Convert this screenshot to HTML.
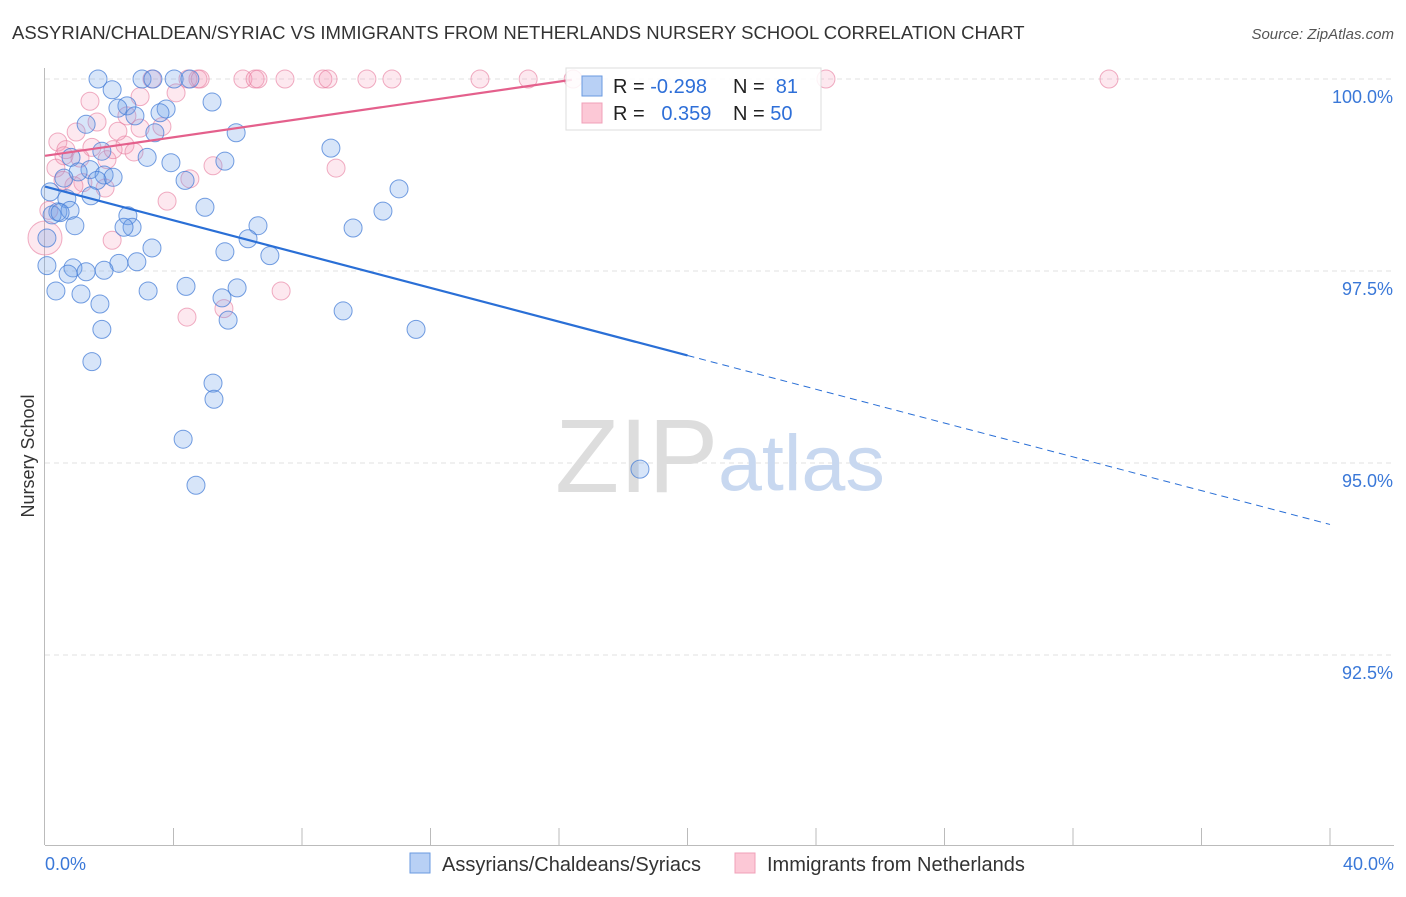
<!DOCTYPE html>
<html><head><meta charset="utf-8">
<style>
body{margin:0;background:#fff;font-family:"Liberation Sans",sans-serif;}
svg text{font-family:"Liberation Sans",sans-serif;}
</style></head>
<body>
<svg id="chart" width="1406" height="892" xmlns="http://www.w3.org/2000/svg">
<text x="12" y="39" font-size="18.5" fill="#333">ASSYRIAN/CHALDEAN/SYRIAC VS IMMIGRANTS FROM NETHERLANDS NURSERY SCHOOL CORRELATION CHART</text>
<text x="1394" y="39" font-size="15" fill="#555" font-style="italic" text-anchor="end">Source: ZipAtlas.com</text>
<text transform="translate(34,456) rotate(-90)" font-size="18" fill="#333" text-anchor="middle">Nursery School</text>
<g id="grid"></g>
<g id="watermark">
<text x="555" y="492" font-size="105" fill="#ddd" font-family="Liberation Serif">ZIP</text>
<text x="718" y="490" font-size="79" fill="#c8d8f0">atlas</text>
</g>
<g id="marks"></g>
<g id="legend-top">
<rect x="566" y="68" width="255" height="62" fill="#fff" fill-opacity="0.85" stroke="#ddd"/>
<rect x="582" y="76" width="20" height="20" fill="#b8d0f5" stroke="#6a9ae0"/>
<rect x="582" y="103" width="20" height="20" fill="#fcc8d6" stroke="#f0a0b8"/>
<text x="613" y="93" font-size="20" fill="#222">R = <tspan fill="#2e6fd8">-0.298</tspan></text>
<text x="733" y="93" font-size="20" fill="#222">N = <tspan fill="#2e6fd8">&#160;81</tspan></text>
<text x="613" y="120" font-size="20" fill="#222">R = <tspan fill="#2e6fd8">&#160;&#160;0.359</tspan></text>
<text x="733" y="120" font-size="20" fill="#222">N = <tspan fill="#2e6fd8">50</tspan></text>
</g>
<g>
<rect x="410" y="853" width="20" height="20" fill="#b8d0f5" stroke="#6a9ae0"/>
<text x="442" y="871" font-size="20" fill="#333">Assyrians/Chaldeans/Syriacs</text>
<rect x="735" y="853" width="20" height="20" fill="#fcc8d6" stroke="#f0a0b8"/>
<text x="767" y="871" font-size="20" fill="#333">Immigrants from Netherlands</text>
</g>
</svg>
<script>
const yTicks=[100,97.5,95,92.5];
const yTickLabels=["100.0%","97.5%","95.0%","92.5%"];
const xTickLabels=["0.0%","40.0%"];
const blueX=[1.65,3.02,3.36,4.02,4.51,2.09,2.55,2.27,5.20,3.77,3.58,2.80,1.28,5.95,3.42,1.77,3.18,0.81,3.92,5.60,8.90,1.40,1.84,1.03,2.12,1.62,4.36,0.59,11.02,0.16,1.43,0.68,4.98,0.40,0.78,10.52,0.22,2.58,6.63,0.93,2.71,2.46,9.59,6.32,3.33,5.60,7.00,0.06,2.30,2.86,1.84,0.87,1.28,0.72,0.34,1.12,3.21,4.39,5.98,1.71,5.51,9.28,5.70,1.77,11.55,1.46,5.23,5.26,4.30,4.70,18.52,0.06,0.47];
const blueY=[100,100,100,100,100,99.86,99.65,99.62,99.70,99.61,99.56,99.52,99.41,99.30,99.30,99.06,98.98,98.98,98.91,98.93,99.10,98.82,98.75,98.79,98.72,98.68,98.68,98.71,98.57,98.53,98.48,98.44,98.33,98.27,98.29,98.28,98.23,98.22,98.09,98.09,98.07,98.07,98.06,97.92,97.80,97.75,97.70,97.57,97.60,97.62,97.51,97.54,97.49,97.46,97.24,97.20,97.24,97.30,97.28,97.07,97.15,96.98,96.86,96.74,96.74,96.32,96.04,95.83,95.31,94.71,94.92,97.93,98.26];
const pinkX=[3.33,4.76,4.45,4.83,6.16,6.54,6.63,7.47,8.65,8.81,10.02,10.80,13.54,15.04,16.44,24.31,33.12,1.40,2.96,4.08,1.62,2.55,3.64,0.97,0.40,2.49,0.65,2.77,1.93,0.59,1.46,2.12,5.23,9.06,0.34,1.18,3.80,0.90,4.51,1.87,0.12,0,2.09,7.35,4.42,5.57,0.56,2.27,2.96,1.09];
const pinkY=[100,100,100,100,100,100,100,100,100,100,100,100,100,100,100,100,100,99.71,99.77,99.82,99.44,99.52,99.38,99.31,99.18,99.14,99.08,99.05,98.95,99.00,99.11,99.08,98.87,98.84,98.84,98.65,98.41,98.61,98.70,98.58,98.29,97.93,97.90,97.24,96.90,97.01,98.68,99.32,99.36,98.97];
const blueTrend=[98.6,94.2];
const pinkTrend=[99.0,99.99];
const pinkTrendEnd=16.4;

const NS="http://www.w3.org/2000/svg";
const X=v=>45+v/40*1285;
const Y=v=>79+(100-v)/2.5*192;
function mk(tag,attrs,parent){const e=document.createElementNS(NS,tag);for(const k in attrs)e.setAttribute(k,attrs[k]);parent.appendChild(e);return e;}
const grid=document.getElementById('grid'),marks=document.getElementById('marks'),svg=document.getElementById('chart');
yTicks.forEach((t,i)=>{
 const l=mk('line',{x1:45,x2:1394,y1:Y(t),y2:Y(t),stroke:'#e2e2e2','stroke-dasharray':'5,4'},grid);
 
 
 const tx=mk('text',{x:1393,y:Y(t)+24,'font-size':18,fill:'#3a78d8','text-anchor':'end'},grid);
 tx.textContent=yTickLabels[i];
 
 
});
const ya=mk('line',{x1:44.5,x2:44.5,y1:68,y2:845,stroke:'#bbb'},grid);


const xa=mk('line',{x1:45,x2:1394,y1:845.5,y2:845.5,stroke:'#bbb'},grid);


for(let i=1;i<=10;i++){const x=45+i*128.5;const t=mk('line',{x1:x,x2:x,y1:828,y2:845,stroke:'#bbb'},grid);
 
 }
[[0,'start',45],[1,'end',1394]].forEach(([i,a,x])=>{const t=mk('text',{x:x,y:870,'font-size':18,fill:'#3a78d8','text-anchor':a},grid);t.textContent=xTickLabels[i];
 
 });
pinkX.forEach((v,i)=>{const r=(v===0)?17:9;const c=mk('circle',{cx:X(v),cy:Y(pinkY[i]),r:r,fill:'rgba(245,150,180,0.22)',stroke:'rgba(230,120,155,0.6)','stroke-width':1},marks);
 
 });
blueX.forEach((v,i)=>{const c=mk('circle',{cx:X(v),cy:Y(blueY[i]),r:9,fill:'rgba(110,160,235,0.28)',stroke:'rgba(70,125,215,0.75)','stroke-width':1},marks);
 
 });
const bMid=20;const bMidY=blueTrend[0]+(blueTrend[1]-blueTrend[0])*bMid/40;
const b1=mk('line',{x1:X(0),y1:Y(blueTrend[0]),x2:X(bMid),y2:Y(bMidY),stroke:'#2a6fd6','stroke-width':2.2},marks);


const b2=mk('line',{x1:X(bMid),y1:Y(bMidY),x2:X(40),y2:Y(blueTrend[1]),stroke:'#2a6fd6','stroke-width':1,'stroke-dasharray':'7,5'},marks);


const p1=mk('line',{x1:X(0),y1:Y(pinkTrend[0]),x2:X(pinkTrendEnd),y2:Y(pinkTrend[1]),stroke:'#e4608c','stroke-width':2.2},marks);


svg.appendChild(document.getElementById('legend-top'));
</script>
</body></html>
